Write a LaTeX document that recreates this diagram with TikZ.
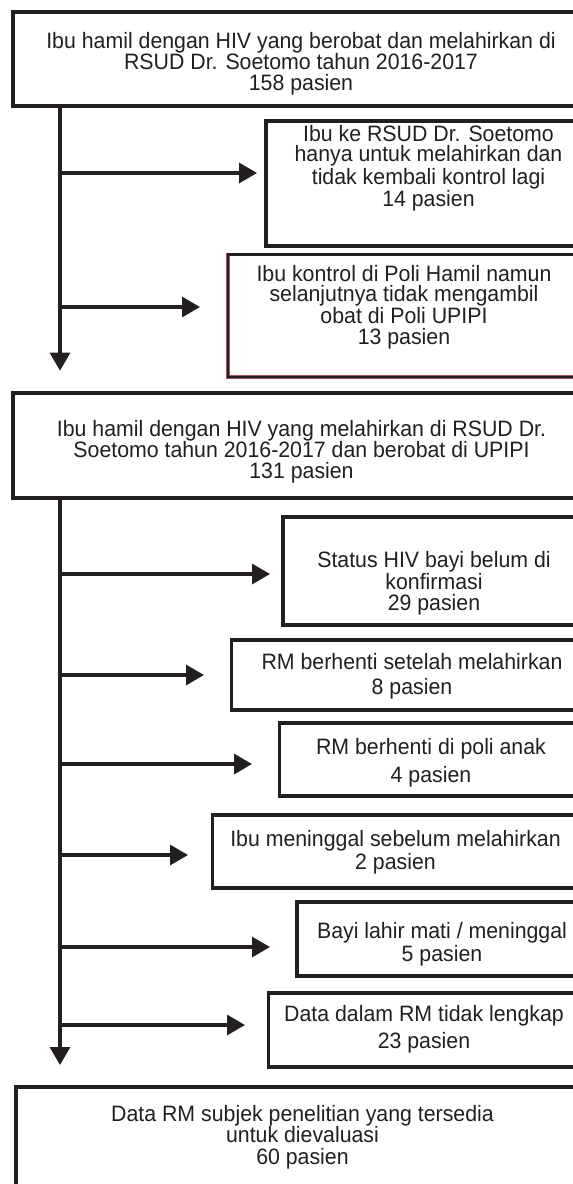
\documentclass[tikz,border=0pt]{standalone}
\usepackage{fontspec}
\setmainfont{Liberation Sans}[FakeStretch=0.957]
\usetikzlibrary{arrows.meta,fit}
\definecolor{ink}{RGB}{35,31,32}
\definecolor{rim}{RGB}{160,85,95}
\newcommand{\fs}[1]{\fontsize{16.7}{#1}\selectfont}
\begin{document}
\begin{tikzpicture}[x=0.75pt,y=-0.75pt,
  box/.style={draw=ink, line width=2.4pt, inner sep=0pt},
  rimbox/.style={draw=rim, line width=0.35pt, double=ink, double distance=2.2pt, inner sep=0pt},
  txt/.style={text=ink, align=center, inner sep=0pt},
  arr/.style={draw=ink, line width=2.4pt, -{Triangle[length=13.5pt,width=15pt]}}]
\useasboundingbox (0,0) rectangle (573,1184);
\clip (0,0) rectangle (573,1184);
\fill[white] (0,0) rectangle (573,1184);

% boxes
\node[box, fit={(13,12)(640,106)}] (b1) {};
\node[box, fit={(266,121)(640,246)}] (b2) {};
\node[rimbox, fit={(228,254.5)(640,377)}] (b3) {};
\node[box, fit={(13,393)(640,498)}] (b4) {};
\node[box, fit={(283,517)(640,625)}] (ba) {};
\node[box, fit={(231.5,640)(640,710)}] (bb) {};
\node[box, fit={(279.5,723)(640,796)}] (bc) {};
\node[box, fit={(212.5,815)(640,888)}] (bd) {};
\node[box, fit={(297,902)(640,976)}] (be) {};
\node[box, fit={(268.5,993)(640,1067)}] (bf) {};
\node[box, fit={(16,1087)(640,1240)}] (bz) {};

% texts
\node[txt, font=\fs{15.7}] (t1) at (301,64) {Ibu hamil dengan HIV yang berobat dan melahirkan di\\RSUD Dr. Soetomo tahun 2016-2017\\158 pasien};
\node[txt, font=\fs{15.4}] (t2) at (428.5,168) {Ibu ke RSUD Dr. Soetomo\\hanya untuk melahirkan dan\\tidak kembali kontrol lagi\\14 pasien};
\node[txt, font=\fs{15.5}] (t3) at (404,307) {Ibu kontrol di Poli Hamil namun\\selanjutnya tidak mengambil\\obat di Poli UPIPI\\13 pasien};
\node[txt, font=\fs{15.8}] (t4) at (301.5,452) {Ibu hamil dengan HIV yang melahirkan di RSUD Dr.\\Soetomo tahun 2016-2017 dan berobat di UPIPI\\131 pasien};
\node[txt, font=\fs{15.4}] (ta) at (434,583) {Status HIV bayi belum di\\konfirmasi\\29 pasien};
\node[txt, font=\fs{19}] (tb) at (412,676) {RM berhenti setelah melahirkan\\8 pasien};
\node[txt, font=\fs{21}] (tc) at (431,763) {RM berhenti di poli anak\\4 pasien};
\node[txt, font=\fs{17.3}] (td) at (395.5,852) {Ibu meninggal sebelum melahirkan\\2 pasien};
\node[txt, font=\fs{17.3}] (te) at (442,944) {Bayi lahir mati / meninggal\\5 pasien};
\node[txt, font=\fs{20}] (tf) at (424,1029) {Data dalam RM tidak lengkap\\23 pasien};
\node[txt, font=\fs{16.2}] (tz) at (302.5,1137) {Data RM subjek penelitian yang tersedia\\untuk dievaluasi\\60 pasien};

% spine coordinates
\coordinate (x1) at (60,0);
\coordinate (e1) at (60,370.7);
\coordinate (e2) at (60,1065);
\coordinate (p1) at (60,173);   \coordinate (q1) at (257,173);
\coordinate (p2) at (60,307);   \coordinate (q2) at (200,307);
\coordinate (pa) at (60,574);   \coordinate (qa) at (270,574);
\coordinate (pb) at (60,675);   \coordinate (qb) at (204,675);
\coordinate (pc) at (60,764);   \coordinate (qc) at (252,764);
\coordinate (pd) at (60,855);   \coordinate (qd) at (188,855);
\coordinate (pe) at (60,947);   \coordinate (qe) at (270,947);
\coordinate (pf) at (60,1025);  \coordinate (qf) at (245,1025);

% connectors
\draw[arr] (b1.south -| x1) -- (e1);
\draw[arr] (b4.south -| x1) -- (e2);
\draw[arr] (p1) -- (q1);
\draw[arr] (p2) -- (q2);
\draw[arr] (pa) -- (qa);
\draw[arr] (pb) -- (qb);
\draw[arr] (pc) -- (qc);
\draw[arr] (pd) -- (qd);
\draw[arr] (pe) -- (qe);
\draw[arr] (pf) -- (qf);
\end{tikzpicture}
\end{document}
